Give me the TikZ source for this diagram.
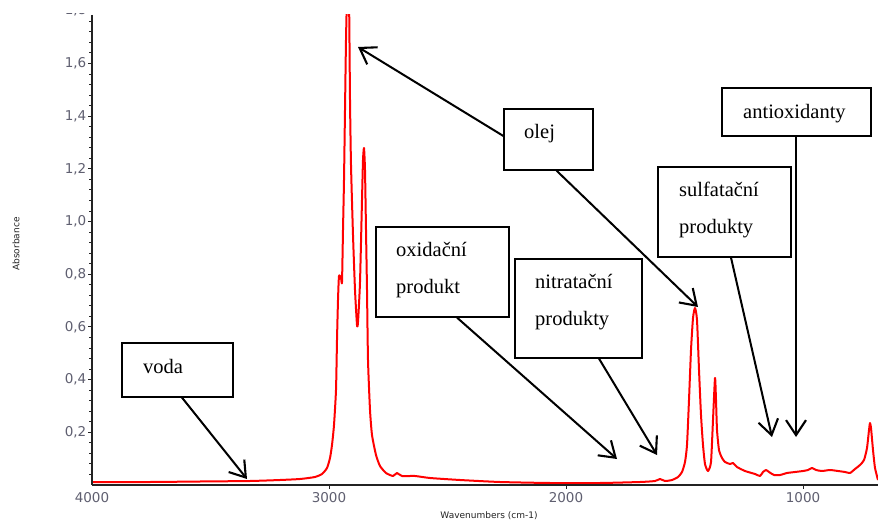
\documentclass[tikz,border=0pt]{standalone}
\usepackage{fontspec}
\usetikzlibrary{arrows.meta}
\newfontfamily\boxfont{Liberation Serif}
\newfontfamily\axfont{DejaVu Sans}
\definecolor{ticklab}{RGB}{95,95,112}
\definecolor{axcol}{RGB}{35,35,35}
\tikzset{
  lblbox/.style={draw=black, line width=1.2pt, fill=white, inner sep=0pt},
  lbltext/.style={anchor=base west, inner sep=0pt, align=left,
    font=\boxfont\fontsize{20.5}{37}\selectfont},
  conn/.style={line width=2pt, line cap=round,
    -{Straight Barb[length=15pt,width=20pt,line width=2.1pt]}},
  ylab/.style={anchor=east, inner sep=0pt, text=ticklab, font=\axfont\fontsize{13.5}{14}\selectfont},
  xlab/.style={anchor=center, inner sep=0pt, text=ticklab, font=\axfont\fontsize{13.5}{14}\selectfont},
  axtitle/.style={inner sep=0pt, text=axcol, font=\axfont\fontsize{9}{10}\selectfont},
  spec/.style={red, line width=2pt, line join=round},
}
\begin{document}
\begin{tikzpicture}[x=1pt,y=-1pt]
\useasboundingbox (0,0) rectangle (878,521);
\fill[white] (0,0) rectangle (878,521);

% spectrum
\begin{scope}
\clip (92,15) rectangle (878,490);
\draw[spec] plot[smooth, tension=0.35] coordinates {
(92,482) (150,482) (200,481.5) (250,481) (280,480) (300,479) (315,477) (322,474)
(327,468) (330,458) (332,445) (334,425) (336,390) (337,340) (338,300) (339,276)
(341,278) (342,282) (343,230) (344,180) (345,110) (346,40) (347,0) (349,0)
(350,100) (351,165) (353,235) (355,290) (357,325) (358,322) (360,282) (362,200)
(363,160) (364,148) (365,170) (366,230) (367,290) (368,360) (370,410) (372,435)
(376,455) (380,466) (386,473) (393,476) (397,473) (402,476) (415,476) (430,478)
(460,480) (500,482) (550,483) (600,483) (640,482) (655,481) (660,479) (665,481)
(672,480) (678,477) (682,472) (685,462) (687,445) (689,400) (691,350) (693,318)
(695,308) (697,320) (699,370) (701,415) (703,445) (705,464) (708,471) (711,462)
(713,420) (715,378) (716,400) (717,430) (719,450) (722,458) (725,462) (730,464)
(733,463) (737,467) (745,471) (755,474) (760,476) (763,472) (766,470) (769,472)
(774,475) (780,475) (787,473) (795,472) (803,471) (808,470) (812,468) (816,470)
(822,471) (830,470) (838,471) (845,472) (850,473) (855,469) (860,465) (864,460)
(867,448) (869,430) (870,423) (871,428) (873,450) (875,468) (878,480)};
\end{scope}

% axes
\draw[axcol, line width=1.6pt] (92,15) -- (92,485);
\draw[axcol, line width=1.4pt] (92,485) -- (878,485);
\foreach \i in {1,...,44} {
  \draw[axcol, line width=0.9pt] (92,{485-263.5*0.04*\i}) -- (89,{485-263.5*0.04*\i});
}
\foreach \i in {1,...,8} {
  \draw[axcol, line width=0.9pt] (92,{485-263.5*0.2*\i}) -- (87.5,{485-263.5*0.2*\i});
}
\begin{scope}
\clip (0,14) rectangle (92,521);
\foreach \v/\t [count=\k] in {0.2/{0,2},0.4/{0,4},0.6/{0,6},0.8/{0,8},1.0/{1,0},1.2/{1,2},1.4/{1,4},1.6/{1,6},1.8/{1,8}} {
  \node[ylab] (yl\k) at (86.5,{485-263.5*\v}) {\t};
}
\end{scope}
\foreach \w [count=\k] in {3000,2000,1000} {
  \draw[axcol, line width=0.9pt] ({92+0.237*(4000-\w)},485) -- ({92+0.237*(4000-\w)},488.5);
}
\foreach \w [count=\k] in {4000,3000,2000,1000} {
  \node[xlab] (xl\k) at ({92+0.237*(4000-\w)},498) {\w};
}
\node[axtitle, rotate=90] (ytitle) at (16,244) {Absorbance};
\node[axtitle] (xtitle) at (489,516) {Wavenumbers (cm-1)};

% label boxes
\node[lblbox, minimum width=111pt, minimum height=54pt] (bvoda) at (177.5,370) {};
\node[lblbox, minimum width=89pt, minimum height=61pt] (bolej) at (548.5,139.5) {};
\node[lblbox, minimum width=133pt, minimum height=90pt] (boxid) at (442.5,272) {};
\node[lblbox, minimum width=127pt, minimum height=99pt] (bnitr) at (578.5,308.5) {};
\node[lblbox, minimum width=133pt, minimum height=90pt] (bsulf) at (724.5,212) {};
\node[lblbox, minimum width=149pt, minimum height=48pt] (banti) at (796.5,112) {};

\node[lbltext] (tvoda) at (143,373) {voda};
\node[lbltext] (tolej) at (524,139) {olej};
\node[lbltext, text width=100pt] (toxid) at (396,257) {oxidační\\produkt};
\node[lbltext, text width=100pt] (tnitr) at (535,289) {nitratační\\produkty};
\node[lbltext, text width=100pt] (tsulf) at (679,197) {sulfatační\\produkty};
\node[lbltext] (tanti) at (743,119) {antioxidanty};

% arrow tips
\coordinate (pvoda) at (247,479);
\coordinate (polej1) at (358,47);
\coordinate (polej2) at (698,307);
\coordinate (poxid) at (617,459);
\coordinate (pnitr) at (657,455);
\coordinate (psulf) at (772,437);
\coordinate (panti) at (796,437);

\draw[conn] ([xshift=4.5pt]bvoda.south) -- (pvoda);
\draw[conn] ([yshift=3.5pt]bolej.west) -- (polej1);
\draw[conn] ([xshift=8pt]bolej.south) -- (polej2);
\draw[conn] ([xshift=14.5pt]boxid.south) -- (poxid);
\draw[conn] ([xshift=20.5pt]bnitr.south) -- (pnitr);
\draw[conn] ([xshift=6.5pt]bsulf.south) -- (psulf);
\draw[conn] ([xshift=-0.5pt]banti.south) -- (panti);
\end{tikzpicture}
\end{document}
